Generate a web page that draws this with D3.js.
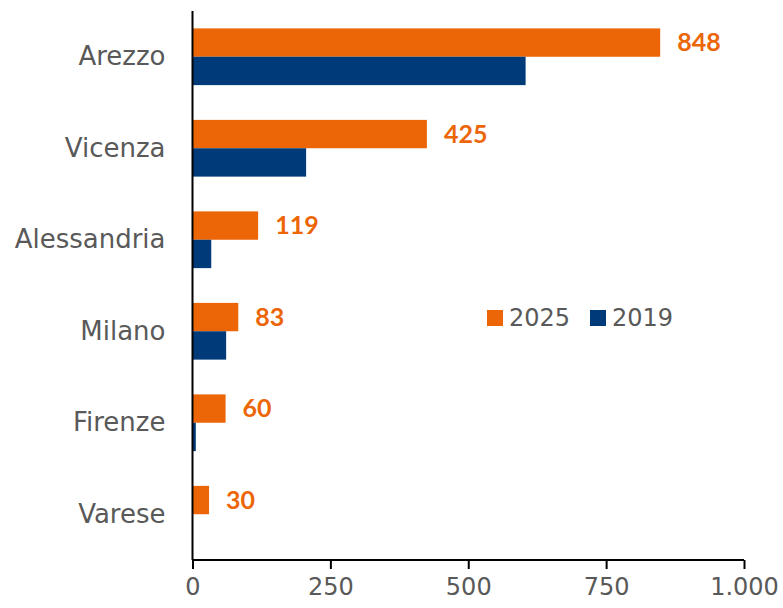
<!DOCTYPE html>
<html>
<head>
<meta charset="utf-8">
<script src="https://cdn.jsdelivr.net/npm/d3@7"></script>
<style>
  body { margin: 0; background: #fff; }
  text { font-family: "DejaVu Sans", sans-serif; }
</style>
</head>
<body>
<svg></svg>
<script>
var cities = ["Arezzo", "Vicenza", "Alessandria", "Milano", "Firenze", "Varese"];
var values2025 = [848, 425, 119, 83, 60, 30];
var values2019 = [604, 206, 34, 61, 6, 0];
var xTicks = [0, 250, 500, 750, 1000];

var ORANGE = "#ec6608", BLUE = "#003a78", GREY = "#595959";

var WIDTH = 783, HEIGHT = 608;
var svg = d3.select("svg")
    .attr("width", WIDTH)
    .attr("height", HEIGHT);

var x = d3.scaleLinear().domain([0, 1000]).range([192.5, 744]);
var y = d3.scaleBand().domain(cities).range([11, 560])
    .paddingInner(0.38).paddingOuter(0.19);
var half = y.bandwidth() / 2;

// bars 2025 (top half)
svg.selectAll("rect.b25")
    .data(cities)
    .enter().append("rect")
    .attr("class", "b25")
    .attr("x", x(0))
    .attr("y", function (d) { return y(d); })
    .attr("width", function (d, i) { return x(values2025[i]) - x(0); })
    .attr("height", half)
    .attr("fill", ORANGE);

// bars 2019 (bottom half)
svg.selectAll("rect.b19")
    .data(cities)
    .enter().append("rect")
    .attr("class", "b19")
    .attr("x", x(0))
    .attr("y", function (d) { return y(d) + half; })
    .attr("width", function (d, i) { return x(values2019[i]) - x(0); })
    .attr("height", half)
    .attr("fill", BLUE);

// labels for 2025
svg.selectAll("text.lab")
    .data(cities)
    .enter().append("text")
    .attr("class", "lab")
    .attr("x", function (d, i) { return x(values2025[i]) + 17; })
    .attr("y", function (d) { return y(d) + half / 2; })
    .attr("dy", "0.35em")
    .attr("fill", ORANGE)
    .style("font-family", "Lato, sans-serif")
    .style("font-size", "25px")
    .style("font-weight", "bold")
    .text(function (d, i) { return values2025[i]; });

// axes
var xAxis = d3.axisBottom(x)
    .tickValues(xTicks)
    .tickSize(9)
    .tickFormat(function (d) { return d3.format(",")(d).replace(",", "."); });

var gx = svg.append("g")
    .attr("transform", "translate(0,560)")
    .call(xAxis);
gx.select(".domain").attr("d", "M" + x(0) + ",0H" + x(1000)).attr("stroke", "#000").attr("stroke-width", 2);
gx.selectAll(".tick line").attr("stroke", "#000").attr("stroke-width", 2);
gx.selectAll(".tick text")
    .attr("y", 18)
    .attr("fill", GREY)
    .style("font-size", "24px")
    .style("font-family", "DejaVu Sans, sans-serif");

var gy = svg.append("g")
    .attr("transform", "translate(" + x(0) + ",0)")
    .call(d3.axisLeft(y).tickSize(0).tickPadding(27));
gy.select(".domain").attr("d", "M0,11V560").attr("stroke", "#000").attr("stroke-width", 2);
gy.selectAll(".tick text")
    .attr("fill", GREY)
    .style("font-size", "26px")
    .style("font-family", "DejaVu Sans, sans-serif");

// legend
var legend = svg.append("g").attr("transform", "translate(487,310)");
var items = [{ name: "2025", color: ORANGE, dx: 0 }, { name: "2019", color: BLUE, dx: 103 }];
var li = legend.selectAll("g")
    .data(items)
    .enter().append("g")
    .attr("transform", function (d) { return "translate(" + d.dx + ",0)"; });
li.append("rect").attr("width", 16).attr("height", 16).attr("fill", function (d) { return d.color; });
li.append("text")
    .attr("x", 22).attr("y", 8).attr("dy", "0.35em")
    .attr("fill", GREY)
    .style("font-size", "24px")
    .text(function (d) { return d.name; });
</script>
</body>
</html>
